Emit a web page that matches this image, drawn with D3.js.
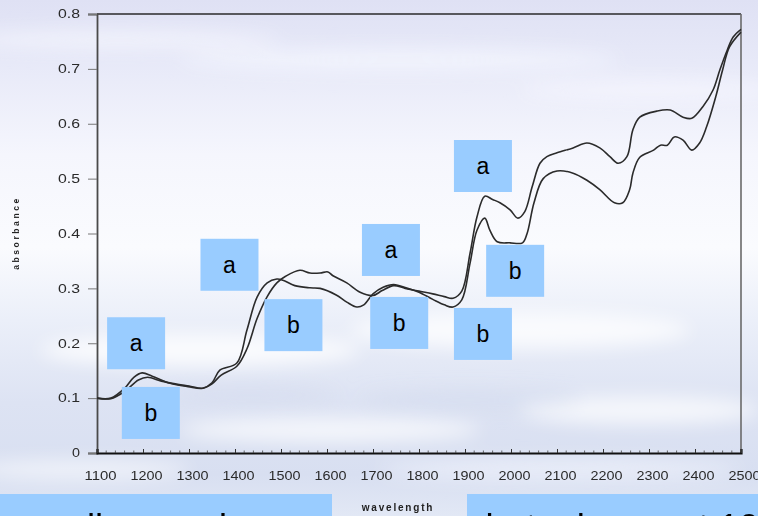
<!DOCTYPE html>
<html>
<head>
<meta charset="utf-8">
<script src="https://cdn.jsdelivr.net/npm/d3@7"></script>
<style>
  html, body { margin: 0; padding: 0; overflow: hidden; background: #eef1fa; }
  svg { display: block; }
</style>
</head>
<body>
<svg id="chart" width="758" height="516"></svg>
<script>
// NIR spectra of two samples (a, b): absorbance against wavelength (nm)
const wavelengthA = [1100, 1130, 1160, 1190, 1210, 1240, 1270, 1300, 1330, 1350, 1370, 1404, 1426, 1448, 1470, 1491, 1510, 1541, 1563, 1585, 1602, 1613, 1643, 1672, 1700, 1720, 1745, 1770, 1800, 1830, 1855, 1874, 1893, 1911, 1926, 1943, 1960, 1976, 1998, 2015, 2030, 2046, 2063, 2078, 2100, 2135, 2165, 2193, 2215, 2233, 2252, 2265, 2280, 2317, 2346, 2374, 2393, 2417, 2439, 2454, 2470, 2483, 2500];
const absorbanceA = [0.100, 0.099, 0.112, 0.133, 0.138, 0.131, 0.126, 0.122, 0.118, 0.126, 0.142, 0.158, 0.190, 0.245, 0.285, 0.310, 0.322, 0.333, 0.328, 0.328, 0.330, 0.323, 0.310, 0.293, 0.287, 0.296, 0.305, 0.300, 0.295, 0.290, 0.285, 0.282, 0.295, 0.364, 0.430, 0.468, 0.462, 0.456, 0.443, 0.428, 0.440, 0.485, 0.528, 0.540, 0.547, 0.556, 0.565, 0.556, 0.540, 0.528, 0.540, 0.589, 0.612, 0.623, 0.625, 0.612, 0.610, 0.631, 0.661, 0.698, 0.734, 0.758, 0.772];

const wavelengthB = [1100, 1130, 1160, 1180, 1198, 1220, 1259, 1298, 1330, 1350, 1367, 1404, 1426, 1448, 1470, 1491, 1504, 1530, 1563, 1585, 1620, 1643, 1665, 1680, 1700, 1722, 1745, 1775, 1800, 1830, 1855, 1874, 1893, 1911, 1926, 1943, 1954, 1970, 1998, 2025, 2035, 2050, 2070, 2100, 2135, 2165, 2193, 2225, 2243, 2258, 2265, 2280, 2310, 2325, 2340, 2355, 2374, 2393, 2410, 2425, 2445, 2460, 2475, 2500];
const absorbanceB = [0.100, 0.100, 0.118, 0.138, 0.146, 0.140, 0.127, 0.121, 0.118, 0.128, 0.151, 0.164, 0.224, 0.284, 0.310, 0.317, 0.315, 0.305, 0.301, 0.300, 0.288, 0.275, 0.266, 0.270, 0.290, 0.302, 0.307, 0.300, 0.293, 0.280, 0.270, 0.266, 0.279, 0.346, 0.406, 0.428, 0.406, 0.385, 0.383, 0.383, 0.400, 0.456, 0.500, 0.514, 0.510, 0.497, 0.480, 0.456, 0.456, 0.480, 0.510, 0.539, 0.552, 0.561, 0.561, 0.576, 0.570, 0.552, 0.565, 0.594, 0.649, 0.698, 0.740, 0.767];

const xTickValues = d3.range(1100, 2501, 100);
const yTickValues = [0, 0.1, 0.2, 0.3, 0.4, 0.5, 0.6, 0.7, 0.8];
const yTickLabels = ["0", "0.1", "0.2", "0.3", "0.4", "0.5", "0.6", "0.7", "0.8"];

// callout boxes naming the curves, anchored in data units
const labelText       = ["a", "b", "a", "b", "a", "b", "a", "b", "b"];
const labelWavelength = [1185, 1217, 1388, 1527, 1739, 1757, 1939, 2009, 1939];
const labelAbsorbance = [0.200, 0.073, 0.343, 0.233, 0.370, 0.237, 0.523, 0.332, 0.217];

const footerText = ["all ground corn", "but a bump at 1940 nm"];

const FONT = "'Liberation Sans', Arial, sans-serif";
const svg = d3.select("#chart");
const W = 758, H = 516;
const defs = svg.append("defs");

// sky backdrop
const sky = defs.append("linearGradient").attr("id", "sky")
  .attr("x1", 0).attr("y1", 0).attr("x2", 0).attr("y2", 1);
[[0, "#dfe1f4"], [0.12, "#e7e9f8"], [0.3, "#f5f6fd"], [0.48, "#fafbfe"], [0.62, "#ebeff9"],
 [0.78, "#dde3f3"], [0.92, "#d8dff1"], [1, "#e2e8f5"]]
  .forEach(([o, c]) => sky.append("stop").attr("offset", o).attr("stop-color", c));
defs.append("filter").attr("id", "soft").attr("x", "-50%").attr("y", "-50%")
  .attr("width", "200%").attr("height", "200%")
  .append("feGaussianBlur").attr("stdDeviation", 9);

svg.append("rect").attr("width", W).attr("height", H).attr("fill", "url(#sky)");

const clouds = svg.append("g").attr("filter", "url(#soft)");
[[120, 40, 160, 10, "#f3f4fc", 0.8], [400, 60, 220, 12, "#f5f6fd", 0.7], [650, 90, 130, 10, "#f6f7fd", 0.7],
 [200, 350, 160, 16, "#ffffff", 0.8], [520, 330, 170, 18, "#ffffff", 0.75], [640, 410, 120, 14, "#ffffff", 0.7],
 [330, 430, 150, 12, "#ffffff", 0.7], [80, 470, 110, 10, "#ffffff", 0.6], [560, 470, 180, 10, "#f7f9fe", 0.6],
 [250, 395, 90, 8, "#d3dbee", 0.6], [470, 400, 110, 9, "#d4dcef", 0.6]]
  .forEach(([cx, cy, rx, ry, c, o]) => clouds.append("ellipse")
    .attr("cx", cx).attr("cy", cy).attr("rx", rx).attr("ry", ry)
    .attr("fill", c).attr("opacity", o));

const x = d3.scaleLinear().domain([1100, 2500]).range([97, 741]);
const y = d3.scaleLinear().domain([0, 0.8]).range([453, 14]);

// frame
const frame = svg.append("g");
frame.append("line").attr("x1", x(1100)).attr("x2", x(2500)).attr("y1", y(0.8)).attr("y2", y(0.8))
  .attr("stroke", "#2a2a2a").attr("stroke-width", 1.6);
frame.append("line").attr("x1", x(2500)).attr("x2", x(2500)).attr("y1", y(0.8)).attr("y2", y(0))
  .attr("stroke", "#6a6a6a").attr("stroke-width", 1.6);

// y axis
const yAxis = svg.append("g").attr("transform", `translate(${x(1100)},0)`)
  .call(d3.axisLeft(y).tickValues(yTickValues).tickSize(9).tickPadding(8)
    .tickFormat((d, i) => yTickLabels[i]));
yAxis.select(".domain").attr("stroke", "#4a4a4a").attr("stroke-width", 1.8);
yAxis.selectAll(".tick line").attr("stroke", "#777").attr("stroke-width", 1);
yAxis.selectAll(".tick text").attr("font-family", FONT)
  .attr("font-size", 12).attr("fill", "#2a2a2a")
  .attr("textLength", d => d === 0 ? 8 : 22).attr("lengthAdjust", "spacingAndGlyphs");

// x axis
const xAxis = svg.append("g").attr("transform", `translate(0,${y(0)})`)
  .call(d3.axisBottom(x).tickValues(xTickValues).tickSize(-4).tickPadding(18)
    .tickFormat(d3.format("d")));
xAxis.select(".domain").attr("stroke", "#111").attr("stroke-width", 2.2);
xAxis.selectAll(".tick line").attr("stroke", "#333").attr("stroke-width", 1);
xAxis.selectAll(".tick text").attr("font-family", FONT)
  .attr("font-size", 13).attr("fill", "#2a2a2a").attr("dx", 3)
  .attr("textLength", 32).attr("lengthAdjust", "spacingAndGlyphs");
// minor ticks along the wavelength axis
svg.append("g").selectAll("line").data(d3.range(1120, 2500, 20).filter(v => v % 100 !== 0))
  .join("line")
  .attr("x1", d => x(d)).attr("x2", d => x(d))
  .attr("y1", y(0) - 2.5).attr("y2", y(0))
  .attr("stroke", "#444").attr("stroke-width", 0.8);

// axis titles
svg.append("text").attr("x", 398).attr("y", 511).attr("text-anchor", "middle")
  .attr("font-family", FONT).attr("font-size", 10)
  .attr("font-weight", "bold").attr("letter-spacing", 1.8).attr("fill", "#222").text("wavelength");
svg.append("text").attr("transform", "translate(19,233) rotate(-90)").attr("text-anchor", "middle")
  .attr("font-family", FONT).attr("font-size", 8.5)
  .attr("font-weight", "bold").attr("letter-spacing", 2.6).attr("fill", "#222").text("absorbance");

// spectra
const line = d3.line().x(d => x(d[0])).y(d => y(d[1])).curve(d3.curveCatmullRom.alpha(0.5));
const spectra = [d3.zip(wavelengthA, absorbanceA), d3.zip(wavelengthB, absorbanceB)];
svg.append("g").selectAll("path").data(spectra).join("path")
  .attr("d", line).attr("fill", "none")
  .attr("stroke", "#2b2b2b").attr("stroke-width", 1.6).attr("stroke-linejoin", "round");

// callouts
const boxW = 58, boxH = 52;
const callouts = svg.append("g").selectAll("g").data(labelText.map((t, i) => ({
    t, w: labelWavelength[i], a: labelAbsorbance[i] })))
  .join("g").attr("transform", d => `translate(${x(d.w)},${y(d.a)})`);
callouts.append("rect").attr("x", -boxW / 2).attr("y", -boxH / 2)
  .attr("width", boxW).attr("height", boxH).attr("fill", "#99ccff");
callouts.append("text").attr("text-anchor", "middle").attr("y", 8)
  .attr("font-family", FONT).attr("font-size", 23)
  .attr("fill", "#000").text(d => d.t);

// caption strips along the bottom edge
svg.append("rect").attr("x", 0).attr("y", 494).attr("width", 332).attr("height", 30).attr("fill", "#99ccff");
svg.append("rect").attr("x", 467).attr("y", 494).attr("width", 300).attr("height", 30).attr("fill", "#99ccff");
svg.append("text").attr("x", 66.7).attr("y", 540)
  .attr("font-family", FONT).attr("font-size", 36.5)
  .attr("fill", "#000").text(footerText[0]);
svg.append("text").attr("x", 485.4).attr("y", 540)
  .attr("font-family", FONT).attr("font-size", 36.5)
  .attr("fill", "#000").text(footerText[1]);
</script>
</body>
</html>
